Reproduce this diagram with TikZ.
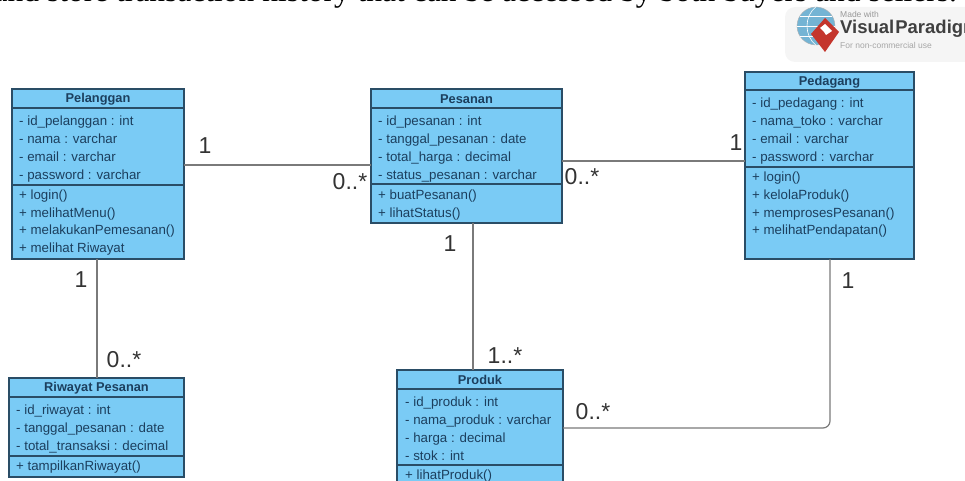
\documentclass[tikz,border=0pt]{standalone}
\usepackage{fontspec}
\setmainfont{Liberation Sans}
\newfontfamily\serifcap{Liberation Serif}
\usetikzlibrary{calc}
\definecolor{boxfill}{HTML}{7ACBF5}
\definecolor{boxline}{HTML}{2A4D66}
\definecolor{boxtext}{HTML}{1C3F5E}
\definecolor{conn}{HTML}{7A7A7A}
\definecolor{mult}{HTML}{333333}
\definecolor{globeblue}{HTML}{74B4D4}
\definecolor{vpred}{HTML}{C4352C}
\tikzset{
  x=1pt,y=-1pt,
  umlbox/.style={draw=boxline,line width=1.3pt,fill=boxfill,anchor=north west,inner sep=0pt,outer sep=0pt},
  divider/.style={draw=boxline,line width=1.2pt},
  attr/.style={anchor=base west,inner sep=0pt,text=boxtext,font=\fontsize{13.3}{14}\selectfont},
  ttl/.style={anchor=center,inner sep=0pt,text=boxtext,font=\fontsize{12.8}{14}\selectfont\bfseries},
  assoc/.style={draw=conn,line width=1.2pt},
  multi/.style={anchor=center,inner sep=0pt,text=mult,font=\fontsize{23}{25}\selectfont},
}
\newcommand{\umlclass}[6]{% name, left, top, right, bottom, title
  \node[umlbox,minimum width=#4-#2,minimum height=#5-#3] (#1) at (#2,#3) {};
  \node[ttl] (#1t) at ($(#1.north)+(0,10)$) {#6};
}
\begin{document}
\begin{tikzpicture}
\useasboundingbox (0,0) rectangle (965,481);
\clip (0,0) rectangle (965,481);
% cropped caption line
\node[anchor=base east,inner sep=0pt,font=\serifcap\fontsize{31.5}{32}\selectfont] (caption) at (957,2) {and store transaction history that can be accessed by both buyers and sellers.};
% watermark
\fill[black!4,rounded corners=10pt] (785,7) rectangle (975,62);
\node[circle,draw=black!30,fill=globeblue,minimum size=38pt,inner sep=0pt] (globe) at (816,26) {};
\draw[white,line width=.6pt] (globe.north) .. controls (804,16) and (804,36) .. (globe.south);
\draw[white,line width=.6pt] (globe.west) -- (globe.east);
\draw[white,line width=.6pt] (800,16) -- (832,16) (800,36) -- (832,36);
\fill[vpred] (825,18) -- (839,32) -- (825,52) -- (811,34) -- cycle;
\fill[white] (820,28) -- (825,24) -- (832,31) -- (826,35) -- (824,32) -- cycle;
\node[anchor=west,inner sep=0pt,text=black!40,font=\fontsize{8.5}{9}\selectfont] (madewith) at (840,14) {Made with};
\node[anchor=west,inner sep=0pt,text=black!75,font=\fontsize{18.5}{20}\selectfont\bfseries] (vpname) at (840,29) {Visual\hspace{1pt}Paradigm};
\node[anchor=west,inner sep=0pt,text=black!35,font=\fontsize{8.5}{9}\selectfont] (vpuse) at (840,45) {For non-commercial use};
% classes
\umlclass{pel}{12}{89}{184}{259}{Pelanggan}
\umlclass{pes}{371}{89}{562}{223}{Pesanan}
\umlclass{ped}{745}{72}{914}{259}{Pedagang}
\umlclass{riw}{9}{378}{184}{477}{Riwayat Pesanan}
\umlclass{pro}{397}{370}{563}{495}{Produk}
% dividers
\draw[divider] (pel.west |- 0,108) -- (pel.east |- 0,108) (pel.west |- 0,185) -- (pel.east |- 0,185);
\draw[divider] (pes.west |- 0,108) -- (pes.east |- 0,108) (pes.west |- 0,184) -- (pes.east |- 0,184);
\draw[divider] (ped.west |- 0,90) -- (ped.east |- 0,90) (ped.west |- 0,167) -- (ped.east |- 0,167);
\draw[divider] (riw.west |- 0,397) -- (riw.east |- 0,397) (riw.west |- 0,456) -- (riw.east |- 0,456);
\draw[divider] (pro.west |- 0,389) -- (pro.east |- 0,389) (pro.west |- 0,465) -- (pro.east |- 0,465);
% Pelanggan
\node[attr] (pa1) at (19,126) {- id\_pelanggan : int};
\node[attr] (pa2) at (19,144) {- nama : varchar};
\node[attr] (pa3) at (19,161) {- email : varchar};
\node[attr] (pa4) at (19,179) {- password : varchar};
\node[attr] (po1) at (19,199) {+ login()};
\node[attr] (po2) at (19,217) {+ melihatMenu()};
\node[attr] (po3) at (19,234) {+ melakukanPemesanan()};
\node[attr] (po4) at (19,252) {+ melihat Riwayat};
% Pesanan
\node[attr] (sa1) at (378,126) {- id\_pesanan : int};
\node[attr] (sa2) at (378,144) {- tanggal\_pesanan : date};
\node[attr] (sa3) at (378,161) {- total\_harga : decimal};
\node[attr] (sa4) at (378,179) {- status\_pesanan : varchar};
\node[attr] (so1) at (378,199) {+ buatPesanan()};
\node[attr] (so2) at (378,217) {+ lihatStatus()};
% Pedagang
\node[attr] (da1) at (752,108) {- id\_pedagang : int};
\node[attr] (da2) at (752,126) {- nama\_toko : varchar};
\node[attr] (da3) at (752,144) {- email : varchar};
\node[attr] (da4) at (752,161) {- password : varchar};
\node[attr] (do1) at (752,181) {+ login()};
\node[attr] (do2) at (752,199) {+ kelolaProduk()};
\node[attr] (do3) at (752,217) {+ memprosesPesanan()};
\node[attr] (do4) at (752,234) {+ melihatPendapatan()};
% Riwayat
\node[attr] (ra1) at (16,414) {- id\_riwayat : int};
\node[attr] (ra2) at (16,432) {- tanggal\_pesanan : date};
\node[attr] (ra3) at (16,450) {- total\_transaksi : decimal};
\node[attr] (ro1) at (16,470) {+ tampilkanRiwayat()};
% Produk
\node[attr] (ka1) at (405,406) {- id\_produk : int};
\node[attr] (ka2) at (405,424) {- nama\_produk : varchar};
\node[attr] (ka3) at (405,442) {- harga : decimal};
\node[attr] (ka4) at (405,460) {- stok : int};
\node[attr] (ko1) at (405,479) {+ lihatProduk()};
% connectors
\coordinate (ya) at (0,165);
\coordinate (yb) at (0,161);
\coordinate (yc) at (0,428);
\coordinate (xa) at (97,0);
\coordinate (xb) at (473,0);
\coordinate (xc) at (830,0);
\draw[assoc] (pel.east |- ya) -- (pes.west |- ya);
\draw[assoc] (pes.east |- yb) -- (ped.west |- yb);
\draw[assoc] (xa |- pel.south) -- (xa |- riw.north);
\draw[assoc] (xb |- pes.south) -- (xb |- pro.north);
\draw[assoc,rounded corners=7pt] (xc |- ped.south) -- (xc |- yc) -- (pro.east |- yc);
% multiplicities
\node[multi] (m1) at (205,146) {1};
\node[multi] (m2) at (350,182) {0..*};
\node[multi] (m3) at (582,177) {0..*};
\node[multi] (m4) at (736,143) {1};
\node[multi] (m5) at (450,244) {1};
\node[multi] (m6) at (505,356) {1..*};
\node[multi] (m7) at (593,412) {0..*};
\node[multi] (m8) at (848,281) {1};
\node[multi] (m9) at (81,280) {1};
\node[multi] (m10) at (124,360) {0..*};
\end{tikzpicture}
\end{document}
